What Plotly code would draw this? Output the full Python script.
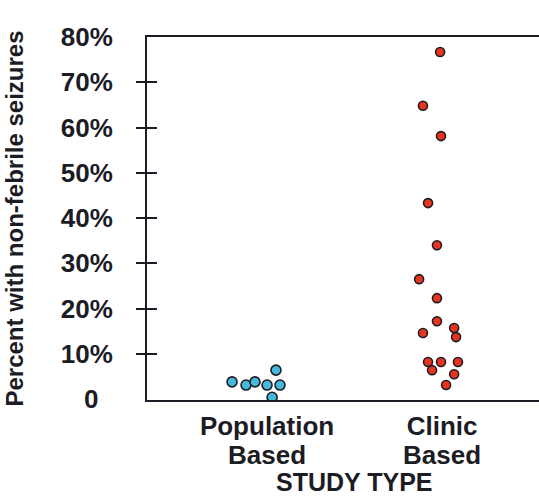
import plotly.graph_objects as go

# Data
categories_line1 = ["Population", "Clinic"]
categories_line2 = ["Based", "Based"]
population_values = [3.8, 3.1, 3.8, 3.1, 3.1, 6.4, 0.4]
population_offsets = [-0.20, -0.12, -0.069, 0.0, 0.074, 0.051, 0.029]
clinic_values = [76.7, 64.8, 58.1, 43.3, 34.0, 26.5, 22.3, 17.2, 15.7, 14.6,
                 13.7, 8.2, 8.2, 8.2, 6.4, 5.5, 3.1]
clinic_offsets = [-0.011, -0.109, -0.006, -0.08, -0.029, -0.131, -0.029, -0.029,
                  0.069, -0.109, 0.08, -0.08, -0.006, 0.091, -0.057, 0.069, 0.023]
tick_values = [0, 10, 20, 30, 40, 50, 60, 70, 80]
tick_labels = ["0\u00a0\u00a0", "10%", "20%", "30%", "40%", "50%", "60%", "70%", "80%"]
minor_ticks = [10, 20, 30, 40, 50, 60, 70]

FONT = "Liberation Sans, Arial, sans-serif"
INK = "#1c1c24"
XR = [-0.686, 1.554]
YR = [-0.2, 80]

fig = go.Figure()
fig.add_trace(go.Scatter(
    x=[0 + o for o in population_offsets], y=population_values, mode="markers",
    marker=dict(size=10, color="#45b9d9", line=dict(color=INK, width=1.6)),
    showlegend=False))
fig.add_trace(go.Scatter(
    x=[1 + o for o in clinic_offsets], y=clinic_values, mode="markers",
    marker=dict(size=9, color="#e8341f", line=dict(color=INK, width=1.6)),
    showlegend=False))

fig.update_layout(
    width=539, height=499,
    margin=dict(l=147, r=0, t=37, b=99),
    plot_bgcolor="white", paper_bgcolor="white",
    font=dict(family=FONT, color=INK),
    xaxis=dict(range=XR, tickvals=[0, 1], ticktext=[f"<b>{c}</b>" for c in categories_line1],
               tickfont=dict(size=26, color=INK), showline=True, linecolor=INK, linewidth=2,
               mirror=True, showgrid=False, zeroline=False, ticks="", ticklabelstandoff=2,
               automargin=False),
    xaxis2=dict(range=XR, overlaying="x", anchor="y", side="bottom",
                tickvals=[0, 1], ticktext=[f"<b>{c}</b>" for c in categories_line2],
                tickfont=dict(size=26, color=INK), showline=False, showgrid=False,
                zeroline=False, ticks="", ticklabelstandoff=37, automargin=False),
    yaxis=dict(range=YR, tickvals=tick_values, ticktext=[f"<b>{t}</b>" for t in tick_labels],
               tickfont=dict(size=26, color=INK), showline=True, linecolor=INK, linewidth=2,
               showgrid=False, zeroline=False, ticks="", ticklabelstandoff=27, automargin=False,
               title=dict(text="<b>Percent with non-febrile seizures</b>",
                          font=dict(size=24, color=INK), standoff=30)),
    yaxis2=dict(range=YR, overlaying="y", anchor="x", side="left",
                tickvals=minor_ticks, ticks="outside", ticklen=10, tickwidth=2, tickcolor=INK,
                showticklabels=False, showline=False, showgrid=False, zeroline=False),
    yaxis3=dict(range=YR, overlaying="y", anchor="x", side="left",
                tickvals=minor_ticks, ticks="inside", ticklen=10, tickwidth=2, tickcolor=INK,
                showticklabels=False, showline=False, showgrid=False, zeroline=False),
)
fig.add_trace(go.Scatter(x=[None], y=[None], yaxis="y2", showlegend=False, hoverinfo="skip"))
fig.add_trace(go.Scatter(x=[None], y=[None], yaxis="y3", showlegend=False, hoverinfo="skip"))
fig.add_trace(go.Scatter(x=[None], y=[None], xaxis="x2", showlegend=False, hoverinfo="skip"))

fig.add_annotation(x=0.5, xref="x", y=0, yref="paper", yshift=-98, yanchor="bottom",
                   text="<b>STUDY TYPE</b>", showarrow=False,
                   font=dict(size=25, color=INK, family=FONT))

fig.write_html("out.html", config={"displayModeBar": False},
               post_script="document.body.style.margin='0';")
